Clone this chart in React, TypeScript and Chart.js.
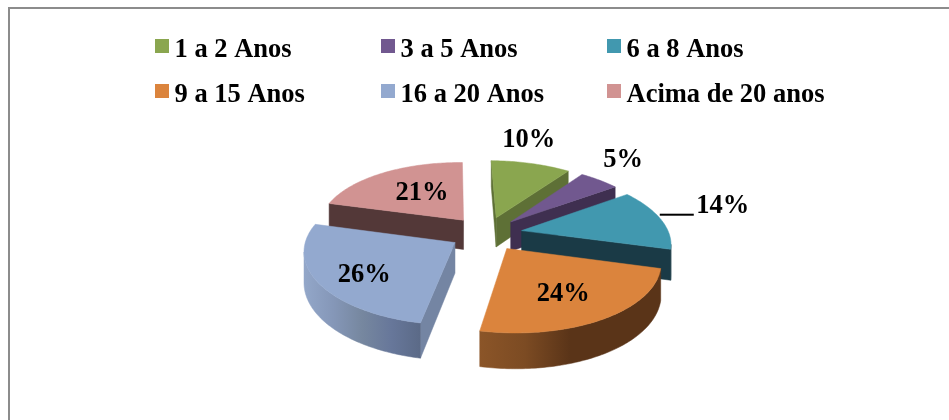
import React, { useEffect, useRef } from "react";
import { Chart, registerables } from "chart.js";

Chart.register(...registerables);

const categories = ["1 a 2 Anos", "3 a 5 Anos", "6 a 8 Anos", "9 a 15 Anos", "16 a 20 Anos", "Acima de 20 anos"];
const shares = [10, 5, 14, 24, 26, 21];
const topColors = ["#8aa64f", "#71588f", "#4198af", "#db843d", "#93a9cf", "#d19392"];
const radialWallColors = ["#5e7036", "#3f2f50", "#1a3a46", "#5a3418", "#7485a3", "#533838"];
const outerWallStops = [
  ["#5e7036", "#5e7036"],
  ["#3f2f50", "#3f2f50"],
  ["#1a3a46", "#1a3a46"],
  ["#8b5528", "#7c4b23", "#5a3418", "#5a3418", "#5a3418"],
  ["#93a7c9", "#8597b8", "#76879f", "#67779a", "#5b6a87"],
  ["#533838", "#533838"],
];
const paintOrder = [5, 0, 1, 2, 4, 3];
const labelNudges = [[9, -41], [53, -34], [110, -17.5], [-4, 1.5], [-4, 7.5], [12.5, 4.5]];

const PERSPECTIVE = 0.134;
const FLATTEN = 0.474;
const WIDEN = 1.015;
const SHEAR = 0.04;
const DEPTH = 30;
const FONT = 'bold 26.5px "Liberation Serif"';

const legendColumns = [155, 381, 607];
const legendRows = [39, 84];

// Ground-plane offset (u, v) from the pie centre -> screen position, for a tilted view.
const project = (cx: number, cy: number, R: number, u: number, v: number, z = 0) => {
  const s = 1 / (1 - (PERSPECTIVE * v) / R);
  return [cx + u * s * WIDEN + SHEAR * v, cy + v * FLATTEN * s + z * DEPTH * s];
};

const pie3d = {
  id: "pie3d",
  beforeDatasetDraw(chart: any) {
    const ctx = chart.ctx as CanvasRenderingContext2D;
    const arcs = chart.getDatasetMeta(0).data;
    const first = arcs[0];
    const cx = first.x;
    const cy = first.y;
    const R = first.outerRadius;
    const proj = (u: number, v: number, z = 0) => project(cx, cy, R, u, v, z);

    const outline = (arc: any) => {
      const mid = (arc.startAngle + arc.endAngle) / 2;
      const d = (arc.options.offset || 0) / 4;
      const ox = Math.cos(mid) * d;
      const oy = Math.sin(mid) * d;
      const steps = Math.max(8, Math.round(((arc.endAngle - arc.startAngle) * 180) / Math.PI));
      const pts: number[][] = [[ox, oy]];
      for (let i = 0; i <= steps; i++) {
        const a = arc.startAngle + ((arc.endAngle - arc.startAngle) * i) / steps;
        pts.push([ox + Math.cos(a) * R, oy + Math.sin(a) * R]);
      }
      return pts;
    };

    const fillPoly = (poly: number[][], fill: any) => {
      ctx.beginPath();
      poly.forEach((p, i) => (i ? ctx.lineTo(p[0], p[1]) : ctx.moveTo(p[0], p[1])));
      ctx.closePath();
      ctx.fillStyle = fill;
      ctx.strokeStyle = fill;
      ctx.lineWidth = 0.5;
      ctx.fill();
      ctx.stroke();
    };

    paintOrder.forEach((i) => {
      const arc = arcs[i];
      const pts = outline(arc);
      const n = pts.length;
      const faceQuad = (a: number[], b: number[]) => [proj(a[0], a[1]), proj(b[0], b[1]), proj(b[0], b[1], 1), proj(a[0], a[1], 1)];
      const facing = (a: number[], b: number[]) => proj(b[0], b[1])[0] - proj(a[0], a[1])[0] < 0;

      // radial walls
      if (facing(pts[0], pts[1])) fillPoly(faceQuad(pts[0], pts[1]), radialWallColors[i]);
      if (facing(pts[n - 1], pts[0])) fillPoly(faceQuad(pts[n - 1], pts[0]), radialWallColors[i]);

      // curved wall: contiguous run of front-facing segments
      let run: number[][] = [];
      const flush = () => {
        if (run.length > 1) {
          const top = run.map((p) => proj(p[0], p[1]));
          const bottom = run.map((p) => proj(p[0], p[1], 1)).reverse();
          const xs = top.map((p) => p[0]);
          const grad = ctx.createLinearGradient(Math.min(...xs), 0, Math.max(...xs), 0);
          const stops = outerWallStops[i];
          stops.forEach((c, k) => grad.addColorStop(k / (stops.length - 1), c));
          fillPoly(top.concat(bottom), grad);
        }
        run = [];
      };
      for (let k = 1; k < n - 1; k++) {
        if (facing(pts[k], pts[k + 1])) {
          if (!run.length) run.push(pts[k]);
          run.push(pts[k + 1]);
        } else flush();
      }
      flush();

      // top face
      fillPoly(pts.map((p) => proj(p[0], p[1])), arc.options.backgroundColor);
    });
    return false;
  },
  afterDraw(chart: any) {
    const ctx = chart.ctx as CanvasRenderingContext2D;
    const arcs = chart.getDatasetMeta(0).data;
    const R = arcs[0].outerRadius;
    const cx = arcs[0].x;
    const cy = arcs[0].y;
    const values = chart.data.datasets[0].data;
    ctx.save();
    ctx.font = FONT;

    // frame
    ctx.fillStyle = "#8c8c8c";
    ctx.fillRect(8, 7, 941, 2);
    ctx.fillRect(8, 7, 2, 413);

    // legend
    ctx.textAlign = "left";
    ctx.textBaseline = "alphabetic";
    chart.data.labels.forEach((label: string, i: number) => {
      const col = legendColumns[i % 3];
      const row = legendRows[Math.floor(i / 3)];
      ctx.fillStyle = topColors[i];
      ctx.fillRect(col, row, 14, 14);
      ctx.fillStyle = "#000";
      ctx.fillText(label, col + 19.5, row + 17.5);
    });

    // value labels
    ctx.textAlign = "center";
    ctx.textBaseline = "middle";
    ctx.fillStyle = "#000";
    arcs.forEach((arc: any, i: number) => {
      const mid = (arc.startAngle + arc.endAngle) / 2;
      const d = (arc.options.offset || 0) / 4 + 0.65 * R;
      const [px, py] = project(cx, cy, R, Math.cos(mid) * d, Math.sin(mid) * d);
      const x = px + labelNudges[i][0];
      const y = py + labelNudges[i][1];
      ctx.fillText(`${values[i]}%`, x, y);
      if (i === 2) {
        ctx.fillRect(x - 63, y + 8, 34, 2);
      }
    });
    ctx.restore();
  },
};

export default function App() {
  const ref = useRef<HTMLCanvasElement>(null);
  useEffect(() => {
    document.body.style.margin = "0";
    const chart = new Chart(ref.current as HTMLCanvasElement, {
      type: "pie",
      data: {
        labels: categories,
        datasets: [{ data: shares, backgroundColor: topColors, borderWidth: 0, offset: 144 }],
      },
      options: {
        responsive: false,
        animation: false,
        radius: 145,
        rotation: 1,
        layout: { padding: { left: 23, top: 47 } },
        plugins: { legend: { display: false }, tooltip: { enabled: false } },
      } as any,
      plugins: [pie3d as any],
    });
    return () => chart.destroy();
  }, []);
  return <canvas ref={ref} width={949} height={420} style={{ display: "block" }} />;
}
